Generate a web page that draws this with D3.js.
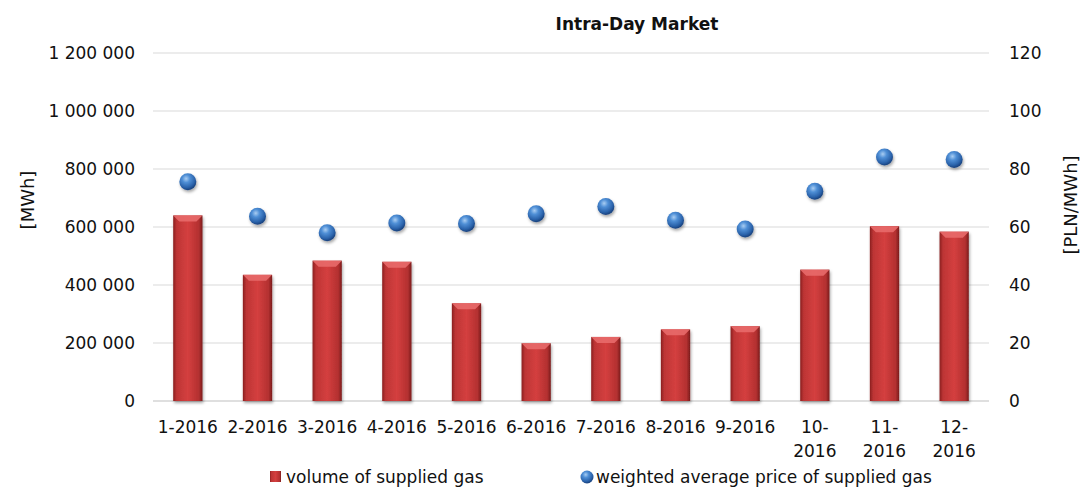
<!DOCTYPE html>
<html>
<head>
<meta charset="utf-8">
<script src="https://d3js.org/d3.v7.min.js"></script>
<style>
  body { margin: 0; background: #fff; }
  text { font-family: "DejaVu Sans", Tahoma, sans-serif; fill: #111; }
</style>
</head>
<body>
<div id="chart"></div>
<script>
var months = ["1-2016","2-2016","3-2016","4-2016","5-2016","6-2016","7-2016","8-2016","9-2016","10-2016","11-2016","12-2016"];
var monthLabels = [["1-2016"],["2-2016"],["3-2016"],["4-2016"],["5-2016"],["6-2016"],["7-2016"],["8-2016"],["9-2016"],["10-","2016"],["11-","2016"],["12-","2016"]];
var volume = [640000, 435000, 484000, 480000, 337000, 199000, 221000, 247000, 258000, 453000, 603000, 584000];
var price = [75.6, 63.7, 58.0, 61.4, 61.2, 64.6, 67.1, 62.3, 59.3, 72.3, 84.1, 83.3];
var leftTicks = [0, 200000, 400000, 600000, 800000, 1000000, 1200000];
var rightTicks = [0, 20, 40, 60, 80, 100, 120];

var W = 1083, H = 489;
var margin = {top: 53, right: 94, bottom: 88, left: 153};
var width = W - margin.left - margin.right,
    height = H - margin.top - margin.bottom;

var svgRoot = d3.select("#chart").append("svg")
  .attr("width", W).attr("height", H);

var defs = svgRoot.append("defs");
var bg = defs.append("linearGradient").attr("id", "barGrad")
  .attr("x1", "0%").attr("x2", "100%").attr("y1", "0%").attr("y2", "0%");
bg.append("stop").attr("offset", "0%").attr("stop-color", "#8a2020");
bg.append("stop").attr("offset", "12%").attr("stop-color", "#bd3535");
bg.append("stop").attr("offset", "50%").attr("stop-color", "#d43f3f");
bg.append("stop").attr("offset", "88%").attr("stop-color", "#b33030");
bg.append("stop").attr("offset", "100%").attr("stop-color", "#7a1c1c");

var sg = defs.append("radialGradient").attr("id", "ballGrad")
  .attr("cx", "40%").attr("cy", "32%").attr("r", "65%");
sg.append("stop").attr("offset", "0%").attr("stop-color", "#a9cdf2");
sg.append("stop").attr("offset", "35%").attr("stop-color", "#4f8fd6");
sg.append("stop").attr("offset", "80%").attr("stop-color", "#2a62aa");
sg.append("stop").attr("offset", "100%").attr("stop-color", "#1c4683");

var sh = defs.append("filter").attr("id", "shadow")
  .attr("x", "-50%").attr("y", "-50%").attr("width", "200%").attr("height", "200%");
sh.append("feDropShadow").attr("dx", 1).attr("dy", 2).attr("stdDeviation", 1.5)
  .attr("flood-color", "#000").attr("flood-opacity", 0.35);

var svg = svgRoot.append("g")
  .attr("transform", "translate(" + margin.left + "," + margin.top + ")");

var x = d3.scaleBand().domain(months).range([0, width]).paddingInner(0.58).paddingOuter(0.29);
var xc = d3.scaleBand().domain(months).range([0, width]);
var y = d3.scaleLinear().domain([0, 1200000]).range([height, 0]);
var y2 = d3.scaleLinear().domain([0, 120]).range([height, 0]);

// gridlines
svg.append("g").selectAll("line").data(leftTicks).enter().append("line")
  .attr("x1", 0).attr("x2", width)
  .attr("y1", d => y(d)).attr("y2", d => y(d))
  .attr("stroke", d => d === 0 ? "#bfbfbf" : "#d9d9d9").attr("stroke-width", 1);

var fmt = function(d) { return d3.format(",")(d).replace(/,/g, " "); };

var yAxis = svg.append("g").call(d3.axisLeft(y).tickValues(leftTicks).tickFormat(fmt).tickSize(0).tickPadding(18));
yAxis.select(".domain").remove();
yAxis.selectAll("text").style("font-size", "17px").style("font-family", "DejaVu Sans, sans-serif").attr("fill", "#111");

var yAxis2 = svg.append("g").attr("transform", "translate(" + width + ",0)")
  .call(d3.axisRight(y2).tickValues(rightTicks).tickSize(0).tickPadding(20));
yAxis2.select(".domain").remove();
yAxis2.selectAll("text").style("font-size", "17px").style("font-family", "DejaVu Sans, sans-serif").attr("fill", "#111");

// x labels
var xl = svg.append("g").attr("transform", "translate(0," + height + ")");
monthLabels.forEach(function(lines, i) {
  var t = xl.append("text").attr("text-anchor", "middle")
    .attr("x", xc(months[i]) + xc.bandwidth() / 2)
    .style("font-size", "17px");
  lines.forEach(function(s, j) {
    t.append("tspan").attr("x", xc(months[i]) + xc.bandwidth() / 2)
      .attr("y", 32 + j * 24).text(s);
  });
});

// bars
var bars = svg.append("g").selectAll("g").data(volume).enter().append("g");
bars.append("rect")
  .attr("x", (d, i) => x(months[i]))
  .attr("y", d => y(d))
  .attr("width", x.bandwidth())
  .attr("height", d => height - y(d))
  .attr("fill", "url(#barGrad)")
  .attr("filter", "url(#shadow)");
bars.append("path")
  .attr("d", function(d, i) {
    var x0 = x(months[i]), x1 = x0 + x.bandwidth(), t = y(d), b = 6;
    return "M" + x0 + "," + t + "L" + x1 + "," + t + "L" + (x1 - b) + "," + (t + b) + "L" + (x0 + b) + "," + (t + b) + "Z";
  })
  .attr("fill", "#e86a6a").attr("opacity", 0.9);

// price points
svg.append("g").selectAll("circle").data(price).enter().append("circle")
  .attr("cx", (d, i) => xc(months[i]) + xc.bandwidth() / 2)
  .attr("cy", d => y2(d))
  .attr("r", 8.5)
  .attr("fill", "url(#ballGrad)")
  .attr("filter", "url(#shadow)");

// titles
svgRoot.append("text").attr("x", 637).attr("y", 30).attr("text-anchor", "middle")
  .style("font-size", "17px").style("font-weight", "bold").text("Intra-Day Market");

svgRoot.append("text").attr("transform", "translate(34,200) rotate(-90)")
  .attr("text-anchor", "middle").style("font-size", "18px").text("[MWh]");
svgRoot.append("text").attr("transform", "translate(1077,205) rotate(-90)")
  .attr("text-anchor", "middle").style("font-size", "18px").text("[PLN/MWh]");

// legend
var lg = svgRoot.append("g");
lg.append("rect").attr("x", 270).attr("y", 471).attr("width", 11).attr("height", 11)
  .attr("fill", "url(#barGrad)");
lg.append("text").attr("x", 286).attr("y", 483).style("font-size", "17px").text("volume of supplied gas");
lg.append("circle").attr("cx", 587).attr("cy", 477).attr("r", 6.5).attr("fill", "url(#ballGrad)");
lg.append("text").attr("x", 596).attr("y", 483).style("font-size", "17px").text("weighted average price of supplied gas");
</script>
</body>
</html>
